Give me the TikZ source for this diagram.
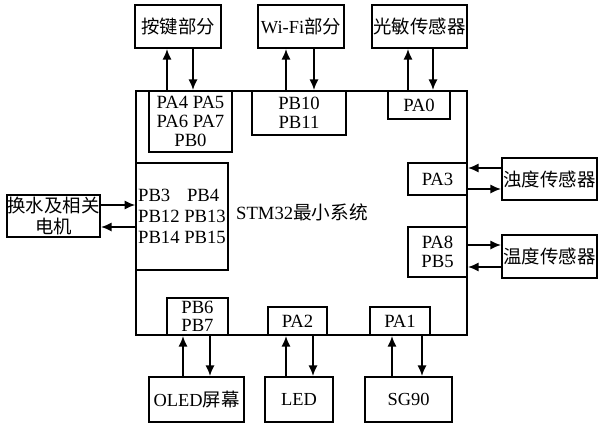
\documentclass[tikz,border=0pt]{standalone}
\usepackage{fontspec}
\setmainfont{Liberation Serif}
\newfontfamily\cjk{Noto Sans CJK SC}
\usetikzlibrary{arrows.meta}
\begin{document}
\begin{tikzpicture}[x=0.75pt,y=-0.75pt,
  sz/.style 2 args={minimum width=#1*0.75pt, minimum height=#2*0.75pt},
  blk/.style={draw, line width=1.4pt, inner sep=0pt, align=center, font=\fontsize{13.8}{14.5}\selectfont},
  port/.style={draw, line width=1.4pt, inner sep=0pt, align=center, font=\fontsize{14}{14}\selectfont},
  arr/.style={line width=1.4pt, -{Latex[length=8pt,width=7pt]}}]
\useasboundingbox (0,0) rectangle (600,436);
% main
\node[draw, line width=1.1pt, sz={331}{244}] (main) at (301.5,213) {};
\node[font=\fontsize{14}{14}\selectfont] (title) at (302,212) {STM32\cjk{最小系统}};
% top outer
\node[blk, sz={86}{43}] (key) at (178,26.5) {\cjk{按键部分}};
\node[blk, sz={86}{43}] (wifi) at (301,26.5) {Wi-Fi\cjk{部分}};
\node[blk, sz={95}{43}] (light) at (419.5,26.5) {\cjk{光敏传感器}};
% top ports
\node[port, sz={83}{61}] (pkey) at (190.5,121.5) {PA4 PA5\\PA6 PA7\\PB0};
\node[port, sz={94}{44}] (pwifi) at (299,113) {PB10\\PB11};
\node[port, sz={62}{28}] (plight) at (419,105) {PA0};
% left
\node[draw, line width=1.1pt, sz={92}{107}, inner sep=0pt, align=left, font=\fontsize{14}{15.5}\selectfont] (pleft) at (182,216.5) {PB3\hspace{0.9em}PB4\\PB12 PB13\\PB14 PB15};
\node[blk, sz={93}{42}, font=\fontsize{13.8}{16}\selectfont] (motor) at (53.5,216) {\cjk{换水及相关}\\\cjk{电机}};
% right
\node[port, sz={59}{32}] (pa3) at (437.5,179) {PA3};
\node[blk, sz={95}{42}] (turb) at (549.5,179) {\cjk{浊度传感器}};
\node[port, sz={59}{50}] (pa8) at (437.5,252) {PA8\\PB5};
\node[blk, sz={95}{43}] (temp) at (549.5,256.5) {\cjk{温度传感器}};
% bottom ports
\node[port, sz={61}{37}] (pb6) at (197.5,316.5) {PB6\\PB7};
\node[port, sz={59}{28}] (pa2) at (297.5,321) {PA2};
\node[port, sz={60}{28}] (pa1) at (400,321) {PA1};
% bottom outer
\node[blk, sz={95}{45}] (oled) at (196.5,399.5) {OLED\cjk{屏幕}};
\node[blk, sz={68}{45}] (led) at (299,399.5) {LED};
\node[blk, sz={87}{45}] (sg) at (408.5,399.5) {SG90};
% arrow columns / rows
\coordinate (c1) at (167,0); \coordinate (c2) at (193,0);
\coordinate (c3) at (286,0); \coordinate (c4) at (314,0);
\coordinate (c5) at (408,0); \coordinate (c6) at (433,0);
\coordinate (c7) at (183,0); \coordinate (c8) at (210,0);
\coordinate (c9) at (286,0); \coordinate (c10) at (313,0);
\coordinate (c11) at (392,0); \coordinate (c12) at (422,0);
\coordinate (r1) at (0,205); \coordinate (r2) at (0,227);
\coordinate (r3) at (0,168); \coordinate (r4) at (0,189);
\coordinate (r5) at (0,245); \coordinate (r6) at (0,267);
% top arrows
\draw[arr] (pkey.north -| c1) -- (key.south -| c1);
\draw[arr] (key.south -| c2) -- (pkey.north -| c2);
\draw[arr] (pwifi.north -| c3) -- (wifi.south -| c3);
\draw[arr] (wifi.south -| c4) -- (pwifi.north -| c4);
\draw[arr] (plight.north -| c5) -- (light.south -| c5);
\draw[arr] (light.south -| c6) -- (plight.north -| c6);
% left arrows
\draw[arr] (motor.east |- r1) -- (pleft.west |- r1);
\draw[arr] (pleft.west |- r2) -- (motor.east |- r2);
% right arrows
\draw[arr] (turb.west |- r3) -- (pa3.east |- r3);
\draw[arr] (pa3.east |- r4) -- (turb.west |- r4);
\draw[arr] (pa8.east |- r5) -- (temp.west |- r5);
\draw[arr] (temp.west |- r6) -- (pa8.east |- r6);
% bottom arrows
\draw[arr] (oled.north -| c7) -- (pb6.south -| c7);
\draw[arr] (pb6.south -| c8) -- (oled.north -| c8);
\draw[arr] (led.north -| c9) -- (pa2.south -| c9);
\draw[arr] (pa2.south -| c10) -- (led.north -| c10);
\draw[arr] (sg.north -| c11) -- (pa1.south -| c11);
\draw[arr] (pa1.south -| c12) -- (sg.north -| c12);
\end{tikzpicture}
\end{document}
